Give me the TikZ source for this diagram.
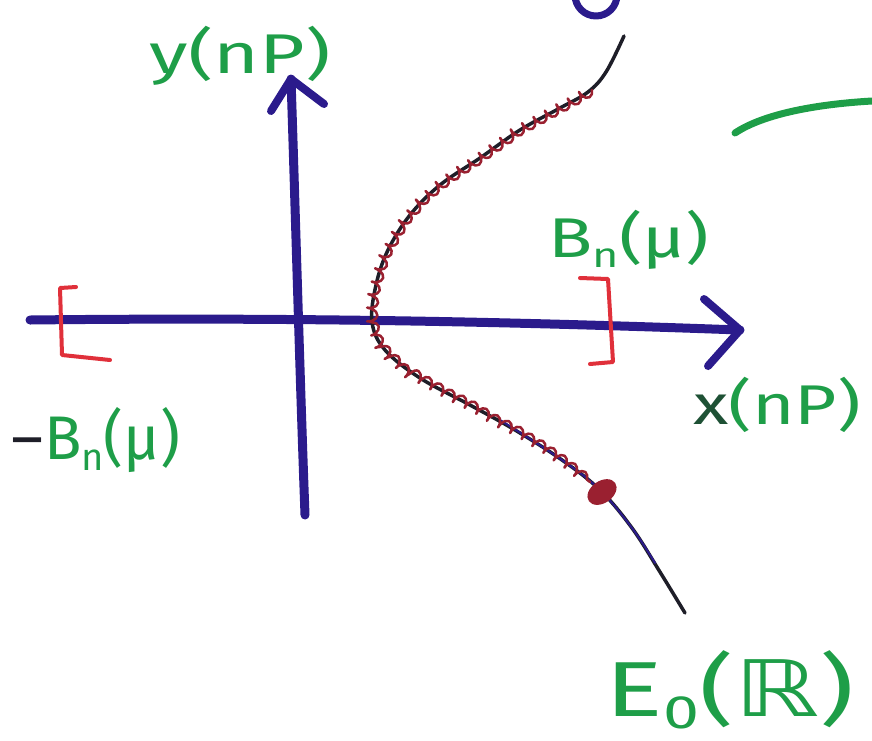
\documentclass[tikz,border=0pt]{standalone}
\usepackage{fontspec}
\setmainfont{Fira Sans}
\newfontfamily\symfont{DejaVu Sans}
\usetikzlibrary{decorations.pathmorphing}
\definecolor{axisblue}{HTML}{2B1B8C}
\definecolor{penred}{HTML}{E0303A}
\definecolor{wigred}{HTML}{9A2030}
\definecolor{pengreen}{HTML}{1E9E48}
\definecolor{penblack}{HTML}{1E1E28}
\newcommand{\subn}{\raisebox{-0.18em}{\scalebox{0.62}{n}}}
\begin{document}
\begin{tikzpicture}[x=1pt,y=-1pt,line cap=round,line join=round,
  axisline/.style={draw=axisblue,line width=9pt},
  tipline/.style={draw=axisblue,line width=8pt},
  curveline/.style={draw=penblack,line width=3.5pt},
  wiggle/.style={draw=wigred,line width=2.5pt,decorate,
    decoration={coil,amplitude=5pt,segment length=13pt}},
  bracketline/.style={draw=penred,line width=4pt},
  greenline/.style={draw=pengreen,line width=7pt},
  lbl/.style={text=pengreen,inner sep=0pt,font=\fontsize{56}{60}\selectfont},
  biglbl/.style={text=pengreen,inner sep=0pt,font=\fontsize{78}{82}\selectfont}]
\useasboundingbox (0,0) rectangle (872,740);

% x axis
\coordinate (xl) at (30,320);
\coordinate (xr) at (740,330);
\coordinate (xa1) at (704,299);
\coordinate (xa2) at (708,366);
\draw[axisline] (xl) .. controls (300,317) and (520,322) .. (xr);
\draw[tipline] (xa1) -- (xr) -- (xa2);

% y axis
\coordinate (yb) at (305,515);
\coordinate (yt) at (291,79);
\coordinate (ya1) at (271,111);
\coordinate (ya2) at (324,104);
\draw[axisline] (yb) .. controls (300,380) and (295,200) .. (yt);
\draw[tipline] (ya1) -- (yt) -- (ya2);

% curve E_0(R)
\draw[curveline] plot[smooth,tension=0.6] coordinates {
 (624,36) (606,72) (588,92) (560,108) (520,130) (480,158) (440,185)
 (410,215) (388,250) (376,285) (372,322) (385,350) (420,378) (470,405)
 (515,430) (562,460) (600,490) (632,528) (660,572) (685,613)};
\draw[draw=axisblue,line width=2pt] plot[smooth,tension=0.6] coordinates {
 (500,420) (562,460) (600,490) (632,528) (655,563)};
\draw[wiggle] (592,90) -- (575,100) -- (560,108) -- (540,119) -- (520,130)
 -- (500,144) -- (480,158) -- (460,171) -- (440,185) -- (424,199) -- (410,215)
 -- (398,232) -- (388,250) -- (381,267) -- (376,285) -- (373,303) -- (372,322)
 -- (377,337) -- (385,350) -- (400,365) -- (420,378) -- (445,392) -- (470,405)
 -- (492,418) -- (515,430) -- (540,445) -- (562,460) -- (590,482);
\fill[wigred] (602,492) ellipse [x radius=16, y radius=11, rotate=35];

% brackets
\draw[bracketline] (76,287) -- (60,288) -- (62,355) -- (110,360);
\draw[bracketline] (580,278) -- (608,279) -- (613,362) -- (590,364);

% top circle fragment and green stroke
\draw[draw=axisblue,line width=7pt] (596,-5) circle (21);
\coordinate (g1) at (735,133);
\coordinate (g2) at (872,101);
\draw[greenline] (g1) .. controls (765,113) and (820,104) .. (g2);

% labels
\node[lbl] (ylab) at (240,56) {\scalebox{1.4}[1]{y(nP)}};
\node[lbl] (bplus) at (629,240) {\scalebox{1.3}[1]{B\subn(μ)}};
\node[lbl] (bminus) at (96,440) {\scalebox{1.1}[1.1]{{\color{penblack}–}B\subn(μ)}};
\node[lbl] (xlab) at (777,405) {\scalebox{1.3}[1]{{\color{penblack!60!pengreen}x}(nP)}};
\node[biglbl] (elab) at (730,690) {\scalebox{1.38}[1]{E\raisebox{-0.15em}{\scalebox{0.6}{0}}({\symfont ℝ})}};
\end{tikzpicture}
\end{document}
